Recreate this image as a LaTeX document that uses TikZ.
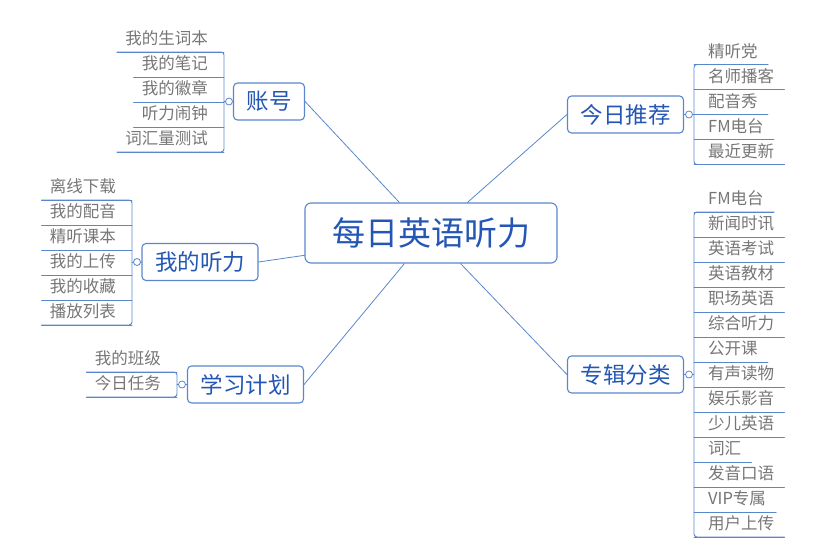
\documentclass[tikz,border=0pt]{standalone}
\usepackage{fontspec}
\setmainfont{Noto Sans CJK SC}
\usepackage{tikz}

\begin{document}
\begin{tikzpicture}
		[x=1pt,y=-1pt,line cap=round,
		%Styles
		branch line/.style={draw=linecolor,line width=.8pt},
		bracket line/.style={draw=linecolor,line width=.9pt,rounded corners=3pt},
		root node/.style={draw=linecolor,line width=1.1pt,rounded corners=6pt,fill=white,text=topiccolor,font=\fontsize{33}{36}\selectfont,inner xsep=27pt,minimum height=60pt},
		main node/.style={draw=linecolor,line width=1.1pt,rounded corners=4pt,fill=white,text=topiccolor,font=\fontsize{22.5}{25}\selectfont,inner xsep=13pt,minimum height=37pt},
		leaf text/.style={text=leafcolor,font=\fontsize{16.5}{18}\selectfont,text height=14pt,text depth=3pt,inner ysep=4pt,
			append after command={(\tikzlastnode.south west) edge[bracket line] (\tikzlastnode.south east)}},
		leaf left/.style={leaf text,anchor=south east,inner xsep=8pt,execute at end node={\hspace{8pt}}},
		leaf right/.style={leaf text,anchor=south west,inner xsep=10pt,execute at begin node={\hspace{4pt}}},
		fold dot/.style={circle,draw=linecolor,fill=white,line width=.8pt,minimum size=7pt,inner sep=0pt}
		]
		
		%Colors
		\definecolor{linecolor}{HTML}{5A87CC}	%boxes and lines
		\definecolor{topiccolor}{HTML}{2457B5}	%topic text
		\definecolor{leafcolor}{HTML}{767676}	%item text
		
		%The graphic
		\useasboundingbox (0,0) rectangle (815,549);
		
		\node[root node] (R) at (431,233) {每日英语听力};
		
		\node[main node] (A) at (269,101.5) {账号};
		\node[main node] (B) at (625.5,114.5) {今日推荐};
		\node[main node] (C) at (200,262) {我的听力};
		\node[main node] (D) at (245.5,384.5) {学习计划};
		\node[main node] (E) at (625.5,374.5) {专辑分类};
		
		\path[branch line]
			(R.136)	edge	(A.east)
			(R.40)	edge	(B.west)
			(R.190)	edge	(C.east)
			(R.229)	edge	(D.east)
			(R.314)	edge	(E.west);
		
		\coordinate (Ab) at (224,101.5);
		\coordinate (Bb) at (694,114.5);
		\coordinate (Cb) at (132,262);
		\coordinate (Db) at (177,384.5);
		\coordinate (Eb) at (694,374.5);
		
		\path[bracket line]
			(A.west)	edge	(Ab)
			(B.east)	edge	(Bb)
			(C.west)	edge	(Cb)
			(D.west)	edge	(Db)
			(E.east)	edge	(Eb);
		
		% account
		\node[leaf left] (A1) at (224,52) {我的生词本};
		\node[leaf left] (A2) at (224,77) {我的笔记};
		\node[leaf left] (A3) at (224,102) {我的徽章};
		\node[leaf left] (A4) at (224,127) {听力闹钟};
		\node[leaf left] (A5) at (224,152) {词汇量测试};
		\draw[bracket line] (A1.south west) -- (A1.south east) -- (A5.south east) -- (A5.south west);
		
		% today
		\node[leaf right] (B1) at (694,64.5) {精听党};
		\node[leaf right] (B2) at (694,89.5) {名师播客};
		\node[leaf right] (B3) at (694,114.5) {配音秀};
		\node[leaf right] (B4) at (694,139.5) {FM电台};
		\node[leaf right] (B5) at (694,164.5) {最近更新};
		\draw[bracket line] (B1.south east) -- (B1.south west) -- (B5.south west) -- (B5.south east);
		
		% listening
		\node[leaf left] (C1) at (132,200) {离线下载};
		\node[leaf left] (C2) at (132,225) {我的配音};
		\node[leaf left] (C3) at (132,250) {精听课本};
		\node[leaf left] (C4) at (132,275) {我的上传};
		\node[leaf left] (C5) at (132,300) {我的收藏};
		\node[leaf left] (C6) at (132,325) {播放列表};
		\draw[bracket line] (C1.south west) -- (C1.south east) -- (C6.south east) -- (C6.south west);
		
		% plan
		\node[leaf left] (D1) at (177,372) {我的班级};
		\node[leaf left] (D2) at (177,397) {今日任务};
		\draw[bracket line] (D1.south west) -- (D1.south east) -- (D2.south east) -- (D2.south west);
		
		% albums
		\node[leaf right] (E1) at (694,212) {FM电台};
		\node[leaf right] (E2) at (694,237) {新闻时讯};
		\node[leaf right] (E3) at (694,262) {英语考试};
		\node[leaf right] (E4) at (694,287) {英语教材};
		\node[leaf right] (E5) at (694,312) {职场英语};
		\node[leaf right] (E6) at (694,337) {综合听力};
		\node[leaf right] (E7) at (694,362) {公开课};
		\node[leaf right] (E8) at (694,387) {有声读物};
		\node[leaf right] (E9) at (694,412) {娱乐影音};
		\node[leaf right] (E10) at (694,437) {少儿英语};
		\node[leaf right] (E11) at (694,462) {词汇};
		\node[leaf right] (E12) at (694,487) {发音口语};
		\node[leaf right] (E13) at (694,512) {VIP专属};
		\node[leaf right] (E14) at (694,537) {用户上传};
		\draw[bracket line] (E1.south east) -- (E1.south west) -- (E14.south west) -- (E14.south east);
		
		\node[fold dot] (Ad) at (229,101.5) {};
		\node[fold dot] (Bd) at (689,114.5) {};
		\node[fold dot] (Cd) at (137,262) {};
		\node[fold dot] (Dd) at (182,384.5) {};
		\node[fold dot] (Ed) at (689,374.5) {};
	\end{tikzpicture}
\end{document}
